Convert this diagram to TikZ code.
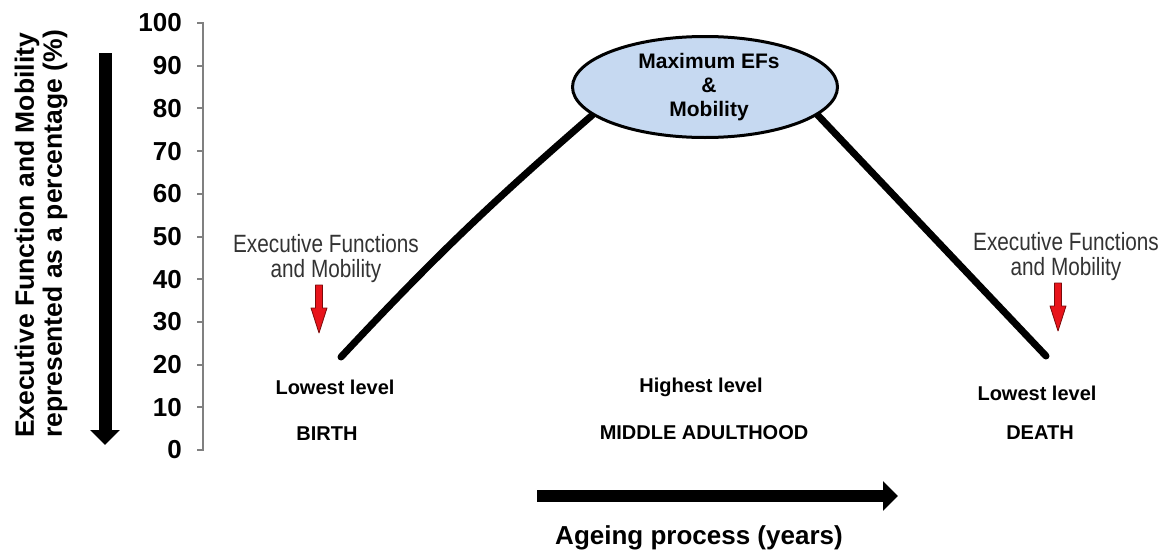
\documentclass[tikz,border=0pt]{standalone}
\usepackage{fontspec}
\setmainfont{Liberation Sans}
\newfontfamily\narrowfont[FakeStretch=0.83]{Liberation Sans}
\usetikzlibrary{shapes,arrows.meta,backgrounds}
\definecolor{peakblue}{HTML}{C6D9F1}
\definecolor{axisgray}{HTML}{808080}
\definecolor{capred}{HTML}{E8141B}
\definecolor{capedge}{HTML}{7A0A0A}

\begin{document}
\begin{tikzpicture}[x=1pt,y=-1pt]
\tikzstyle{every node}=[inner sep=0pt]
\tikzstyle{bold}=[font=\bfseries\fontsize{20}{24}\selectfont]
\tikzstyle{ticklabel}=[anchor=east,font=\bfseries\fontsize{26}{26}\selectfont]
\tikzstyle{note}=[align=center,text=black!80,font=\narrowfont\fontsize{25}{25}\selectfont]
\tikzstyle{bigarrow}=[line width=13pt,-{Triangle[width=29pt,length=15pt]}]
\tikzstyle{curve}=[line width=7pt,line cap=round]
\tikzstyle{caparrow}=[fill=capred,draw=capedge,line width=0.8pt,line join=round]
\useasboundingbox (0,0) rectangle (1165,554);

% y axis
\draw[axisgray,line width=2pt] (197,23) -- (203,23) -- (203,450) -- (197,450);
\foreach \v in {0,10,...,100} {
  \draw[axisgray,line width=2pt] (197,450-4.27*\v) -- (203,450-4.27*\v);
  \node[ticklabel] (t\v) at (182,450-4.27*\v) {\v};
}
\node[rotate=90,align=left,font=\bfseries\fontsize{26.5}{28}\selectfont] (ylabel) at (41,234)
  {Executive Function and Mobility\\represented as a percentage (\%)};
\coordinate (vtop) at (105,53);
\coordinate (vbot) at (105,445);
\draw[bigarrow] (vtop) -- (vbot);

% peak
\node[ellipse,draw,line width=3pt,fill=peakblue,minimum width=265pt,minimum height=101pt,
  align=center,font=\bfseries\fontsize{21}{24}\selectfont] (peak) at (705,87)
  {\hspace*{8pt}Maximum EFs\\\hspace*{8pt}\&\\\hspace*{8pt}Mobility};
\coordinate (birthend) at (341,357);
\coordinate (deathend) at (1046,356);
\begin{pgfonlayer}{background}
\draw[curve] (birthend) to[bend left=3] (peak.194);
\draw[curve] (peak.346) -- (deathend);
\end{pgfonlayer}

% notes with red arrows
\node[note] (noteL) at (326,259) {Executive Functions\\and Mobility};
\node[note] (noteR) at (1066,257) {Executive Functions\\and Mobility};
\foreach \ax/\ay in {319/285,1058/283} {
  \filldraw[caparrow] (\ax-3.5,\ay) -- (\ax+3.5,\ay) -- (\ax+3.5,\ay+23) -- (\ax+8,\ay+23)
    -- (\ax,\ay+48) -- (\ax-8,\ay+23) -- (\ax-3.5,\ay+23) -- cycle;
}

% levels and stages
\node[bold] (lowL) at (335,387) {Lowest level};
\node[bold] (birth) at (327,434) {BIRTH};
\node[bold] (high) at (701,387) {Highest level};
\node[bold] (middle) at (704,433) {MIDDLE ADULTHOOD};
\node[bold] (lowR) at (1037,393) {Lowest level};
\node[bold] (death) at (1040,433) {DEATH};

% ageing
\coordinate (hstart) at (537,496);
\coordinate (hend) at (898,496);
\draw[bigarrow,line width=12pt] (hstart) -- (hend);
\node[font=\bfseries\fontsize{26}{26}\selectfont] (ageing) at (699,538) {Ageing process (years)};
\end{tikzpicture}
\end{document}
